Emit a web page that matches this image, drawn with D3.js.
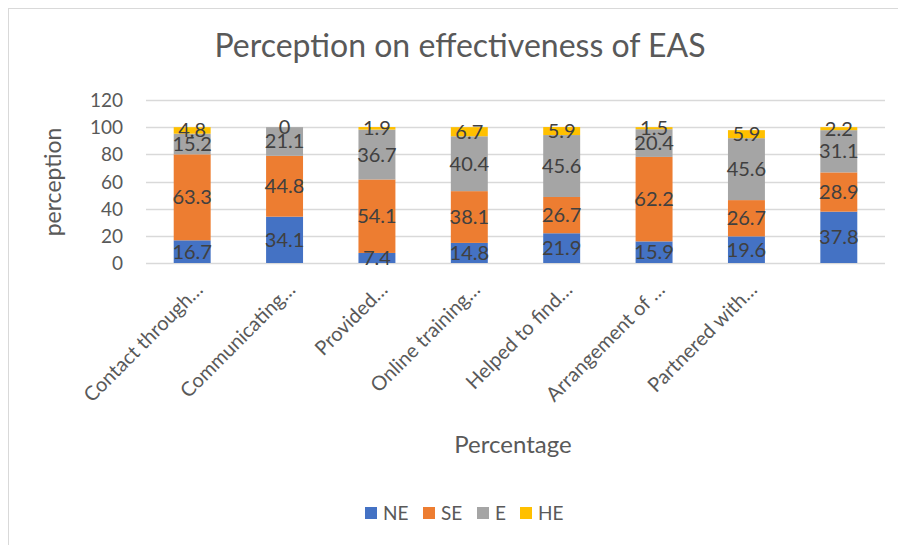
<!DOCTYPE html>
<html>
<head>
<meta charset="utf-8">
<script src="https://cdn.jsdelivr.net/npm/d3@7"></script>
<style>
  body { margin: 0; background: #fff; }
  text { font-family: Lato, "Open Sans", sans-serif; }
</style>
</head>
<body>
<div class="canvas"></div>
<script>
const categories = ["Contact through…", "Communicating…", "Provided…", "Online training…",
  "Helped to find…", "Arrangement of …", "Partnered with…", "…"];
const catLabels = ["Contact through…", "Communicating…", "Provided…", "Online training…",
  "Helped to find…", "Arrangement of …", "Partnered with…", ""];
const seriesNames = ["NE", "SE", "E", "HE"];
const NE = [16.7, 34.1, 7.4, 14.8, 21.9, 15.9, 19.6, 37.8];
const SE = [63.3, 44.8, 54.1, 38.1, 26.7, 62.2, 26.7, 28.9];
const E = [15.2, 21.1, 36.7, 40.4, 45.6, 20.4, 45.6, 31.1];
const HE = [4.8, 0, 1.9, 6.7, 5.9, 1.5, 5.9, 2.2];
const yTicks = [0, 20, 40, 60, 80, 100, 120];
const colors = ["#4472c4", "#ed7d31", "#a5a5a5", "#ffc000"];

const width = 898, height = 545;
const margin = { left: 146, right: 13, top: 100, bottom: 282 };

const rows = categories.map((c, i) => ({ cat: c, NE: NE[i], SE: SE[i], E: E[i], HE: HE[i] }));
const stacked = d3.stack().keys(seriesNames)(rows);

const svg = d3.select(".canvas")
  .append("svg")
  .attr("width", width)
  .attr("height", height);

// chart frame
svg.append("rect")
  .attr("x", 8.5).attr("y", 8.5)
  .attr("width", 900).attr("height", 560)
  .attr("fill", "#fff")
  .attr("stroke", "#d9d9d9");

const x = d3.scaleBand()
  .domain(categories)
  .range([margin.left, width - margin.right])
  .paddingInner(0.6)
  .paddingOuter(0.3);

const y = d3.scaleLinear()
  .domain([0, 120])
  .range([263, 100]);

// gridlines
svg.append("g")
  .selectAll("line")
  .data(yTicks)
  .join("line")
  .attr("x1", margin.left)
  .attr("x2", width - margin.right)
  .attr("y1", d => Math.round(y(d)) + 0.5)
  .attr("y2", d => Math.round(y(d)) + 0.5)
  .attr("stroke", "#d9d9d9")
  .attr("stroke-width", 1.3);

// y tick labels
svg.append("g")
  .selectAll("text")
  .data(yTicks)
  .join("text")
  .attr("x", 123)
  .attr("y", d => y(d) + 7)
  .attr("text-anchor", "end")
  .attr("font-size", 19)
  .attr("fill", "#595959")
  .text(d => d);

// bars
const layer = svg.append("g")
  .selectAll("g")
  .data(stacked)
  .join("g")
  .attr("fill", (d, i) => colors[i]);

layer.selectAll("rect")
  .data(d => d)
  .join("rect")
  .attr("x", d => x(d.data.cat))
  .attr("width", x.bandwidth())
  .attr("y", d => y(d[1]))
  .attr("height", d => y(d[0]) - y(d[1]));

// data labels
svg.append("g")
  .selectAll("g")
  .data(stacked)
  .join("g")
  .selectAll("text")
  .data(d => d.map(v => ({ v: v, key: d.key })))
  .join("text")
  .attr("x", d => x(d.v.data.cat) + x.bandwidth() / 2)
  .attr("y", d => y((d.v[0] + d.v[1]) / 2) + 7)
  .attr("text-anchor", "middle")
  .attr("font-size", 20)
  .attr("fill", "#404040")
  .text(d => d.v.data[d.key]);

// x labels
svg.append("g")
  .selectAll("text")
  .data(categories)
  .join("text")
  .attr("transform", d => `translate(${x(d) + x.bandwidth() / 2 + 12},${291}) rotate(-45)`)
  .attr("text-anchor", "end")
  .attr("font-size", 20)
  .attr("fill", "#595959")
  .text((d, i) => catLabels[i]);

// title
svg.append("text")
  .attr("x", 460)
  .attr("y", 57)
  .attr("text-anchor", "middle")
  .attr("font-size", 32)
  .attr("fill", "#595959")
  .text("Perception on effectiveness of EAS");

// axis titles
svg.append("text")
  .attr("transform", "translate(61,182) rotate(-90)")
  .attr("text-anchor", "middle")
  .attr("font-size", 23)
  .attr("fill", "#595959")
  .text("perception");

svg.append("text")
  .attr("x", 513)
  .attr("y", 453)
  .attr("text-anchor", "middle")
  .attr("font-size", 24)
  .attr("fill", "#595959")
  .text("Percentage");

// legend
const legendX = [365, 423, 477, 520];
const legend = svg.append("g")
  .selectAll("g")
  .data(seriesNames)
  .join("g")
  .attr("transform", (d, i) => `translate(${legendX[i]},507)`);
legend.append("rect")
  .attr("width", 12).attr("height", 12)
  .attr("fill", (d, i) => colors[i]);
legend.append("text")
  .attr("x", 18).attr("y", 13)
  .attr("font-size", 19)
  .attr("fill", "#595959")
  .text(d => d);
</script>
</body>
</html>
